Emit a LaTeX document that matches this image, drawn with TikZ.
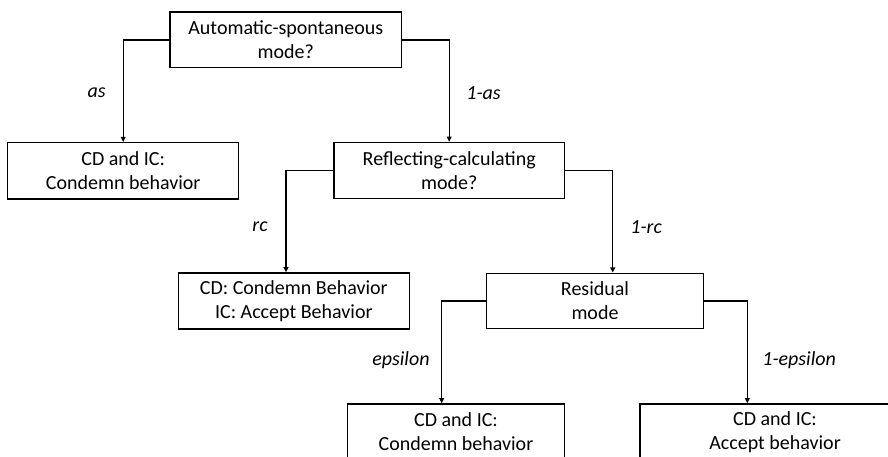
\documentclass[tikz,border=0pt]{standalone}
\usepackage{fontspec}
\setmainfont{Carlito}
\usetikzlibrary{arrows.meta}

\begin{document}
\begin{tikzpicture}[x=0.5pt,y=-0.5pt,
	box/.style={draw,line width=0.7pt,align=center,inner sep=0pt,font=\fontsize{10}{12}\selectfont},
	lbl/.style={inner sep=0pt,font=\fontsize{10}{12}\selectfont\itshape},
	arr/.style={line width=0.7pt,-{Triangle[length=2.6pt,width=2.4pt]}}]
	\clip (0,0) rectangle (888,456);
	
	\node[box,minimum width=115.8pt,minimum height=27.8pt] (auto) at (285.8,39.9) {Automatic-spontaneous\\mode?};
	\node[box,minimum width=115.5pt,minimum height=28.2pt] (condA) at (123.2,170.9) {CD and IC:\\Condemn behavior};
	\node[box,minimum width=115.2pt,minimum height=28pt] (refl) at (449.2,170.5) {Reflecting-calculating\\mode?};
	\node[box,minimum width=115.5pt,minimum height=28pt] (mixed) at (293.8,301) {CD: Condemn Behavior\\IC: Accept Behavior};
	\node[box,minimum width=108.3pt,minimum height=27.5pt] (resid) at (595,300.8) {Residual\\mode};
	\node[box,minimum width=108.3pt,minimum height=28pt] (condB) at (456,432) {CD and IC:\\Condemn behavior};
	\node[box,minimum width=135pt,minimum height=28pt] (accept) at (775,432) {CD and IC:\\Accept behavior};
	
	\draw[arr] (auto.west) -| (condA.north);
	\draw[arr] (auto.east) -| (refl.north);
	\node[lbl,anchor=east] (las) at (106,93) {as};
	\node[lbl,anchor=west] (l1as) at (466,93) {1-as};
	
	\draw[arr] (refl.west) -| ([xshift=-3.9pt]mixed.north);
	\draw[arr] (refl.east) -| ([xshift=8.85pt]resid.north);
	\node[lbl,anchor=east] (lrc) at (268,227) {rc};
	\node[lbl,anchor=west] (l1rc) at (630,227) {1-rc};
	
	\draw[arr] (resid.west) -| ([xshift=-7.15pt]condB.north);
	\draw[arr] (resid.east) -| ([xshift=-13.85pt]accept.north);
	\node[lbl,anchor=east] (leps) at (430,360) {epsilon};
	\node[lbl,anchor=west] (l1eps) at (762,360) {1-epsilon};
\end{tikzpicture}
\end{document}
